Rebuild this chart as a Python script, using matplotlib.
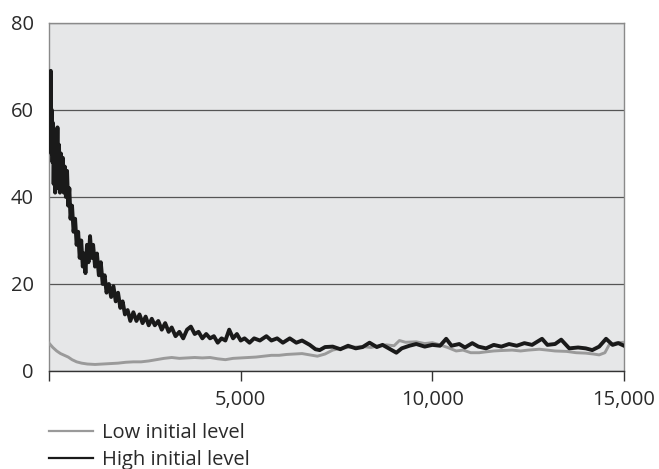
import matplotlib.pyplot as plt
from matplotlib.ticker import FuncFormatter

# --- datos ---
steps_high = [0, 10, 20, 30, 45, 60, 75, 90, 105, 120, 140, 160, 180, 200, 220, 240, 260, 285, 310, 335,
              360, 385, 410, 440, 470, 500, 530, 560, 600, 640, 680, 720, 760, 800, 840, 880, 920, 950, 990, 1030,
              1070, 1110, 1150, 1200, 1250, 1300, 1350, 1400, 1450, 1500, 1560, 1620, 1680, 1740, 1800, 1860, 1920, 1980, 2050, 2120,
              2200, 2280, 2360, 2440, 2520, 2600, 2680, 2760, 2850, 2940, 3030, 3120, 3200, 3300, 3400, 3500, 3600, 3700, 3800, 3900,
              4000, 4100, 4200, 4300, 4400, 4500, 4600, 4700, 4800, 4900, 5000, 5100, 5230, 5350, 5500, 5670, 5800, 5950, 6100, 6280,
              6450, 6600, 6800, 6950, 7060, 7200, 7400, 7600, 7800, 8000, 8180, 8360, 8550, 8700, 8900, 9060, 9200, 9400, 9580, 9800,
              10000, 10200, 10360, 10500, 10700, 10850, 11040, 11200, 11400, 11600, 11800, 12000, 12200, 12400, 12600, 12860, 13000, 13200, 13360, 13570,
              13800, 14000, 14170, 14350, 14530, 14700, 14850, 15000]
high_level = [62, 55, 66, 52, 69, 50, 60, 48, 57, 43, 55, 41, 54, 45, 56, 42, 52, 41, 50, 44,
              49, 41, 47, 40, 46, 38, 42, 35, 38, 32, 35, 29, 32, 26, 30, 24, 27, 22.5, 29, 25,
              31, 26, 29, 24, 27, 22, 25, 20, 22, 18, 20, 17, 19.5, 16, 18, 14.5, 16, 13, 14, 11.5,
              13.5, 11.5, 13, 11, 12.5, 10.5, 12, 10.5, 11.5, 9.5, 11, 9, 10, 8, 9, 7.5, 9.5, 10.2, 8.5, 9,
              7.5, 8.5, 7.5, 8, 6.5, 7.5, 7, 9.5, 7.5, 8.5, 7, 7.5, 6.5, 7.5, 7, 8, 7, 7.5, 6.5, 7.5,
              6.5, 7, 6, 5, 4.8, 5.5, 5.6, 5, 5.8, 5.2, 5.5, 6.5, 5.5, 6, 5, 4.2, 5.2, 5.8, 6.2, 5.6,
              6, 5.8, 7.4, 5.8, 6.2, 5.4, 6.4, 5.6, 5.2, 6, 5.6, 6.2, 5.8, 6.4, 6, 7.4, 6, 6.2, 7.2, 5.2,
              5.4, 5.2, 4.8, 5.6, 7.4, 6, 6.4, 5.8]

steps_low = [0, 100, 200, 300, 400, 500, 600, 720, 850, 1000, 1200, 1400, 1600, 1800, 2000, 2200, 2400, 2600, 2800, 3000,
             3200, 3400, 3600, 3800, 4000, 4200, 4400, 4600, 4800, 5000, 5200, 5400, 5600, 5800, 6000, 6200, 6400, 6600, 6800, 7000,
             7200, 7400, 7600, 7800, 8000, 8200, 8400, 8600, 8800, 9000, 9140, 9300, 9580, 9800, 10000, 10200, 10400, 10620, 10800, 11000,
             11220, 11400, 11600, 11800, 12080, 12300, 12500, 12790, 13000, 13200, 13500, 13750, 14000, 14200, 14350, 14500, 14610, 14800, 15000]
low_level = [6.4, 5.4, 4.6, 4.0, 3.6, 3.2, 2.6, 2.1, 1.8, 1.6, 1.5, 1.6, 1.7, 1.8, 2.0, 2.1, 2.1, 2.3, 2.6, 2.9,
             3.1, 2.9, 3.0, 3.1, 3.0, 3.1, 2.8, 2.6, 2.9, 3.0, 3.1, 3.2, 3.4, 3.6, 3.6, 3.8, 3.9, 4.0, 3.7, 3.4,
             3.9, 4.8, 5.2, 5.4, 5.5, 5.6, 5.4, 5.8, 6.0, 5.8, 7.0, 6.6, 6.7, 6.3, 6.5, 6.0, 5.4, 4.6, 4.8, 4.2,
             4.2, 4.4, 4.6, 4.7, 4.8, 4.6, 4.8, 5.0, 4.8, 4.6, 4.5, 4.2, 4.1, 3.9, 3.7, 4.2, 6.0, 6.5, 6.6]

y_ticks = [0, 20, 40, 60, 80]
x_ticks = [0, 5000, 10000, 15000]

plt.rcParams['font.family'] = ['Open Sans', 'DejaVu Sans']

fig = plt.figure(figsize=(6.59, 4.69), dpi=100)
ax = fig.add_axes([0.0744, 0.209, 0.8726, 0.742])
ax.set_facecolor('#e6e7e8')

ax.plot(steps_low, low_level, color='#9a9a9a', lw=2.1, label='Low initial level', zorder=3)
ax.plot(steps_high, high_level, color='#1a1a1a', lw=2.8, label='High initial level', zorder=4)

ax.set_xlim(0, 15000)
ax.set_ylim(0, 80)
ax.set_yticks(y_ticks)
ax.set_xticks(x_ticks)
ax.xaxis.set_major_formatter(FuncFormatter(lambda v, p: '' if v == 0 else f'{int(v):,}'))

ax.grid(axis='y', color='#555555', lw=0.9)
ax.set_axisbelow(True)

for lado in ['left', 'top', 'right']:
    ax.spines[lado].set_color('#8a8a8a')
    ax.spines[lado].set_linewidth(1.0)
ax.spines['bottom'].set_color('#333333')
ax.spines['bottom'].set_linewidth(1.0)

ax.tick_params(axis='y', length=0, pad=11, labelsize=14.5, colors='#2a2a2a')
ax.tick_params(axis='x', length=7, width=1.0, color='#333333', pad=7, labelsize=14.5, labelcolor='#2a2a2a')

leg = ax.legend(loc='upper left', bbox_to_anchor=(0.074, 0.098), bbox_transform=fig.transFigure,
                frameon=False, fontsize=14.5, handlelength=2.2, handletextpad=0.45, labelspacing=0.36,
                borderaxespad=0, borderpad=0, labelcolor='#2a2a2a')
for linea in leg.get_lines():
    linea.set_linewidth(1.6)

plt.savefig('out.png', dpi=100)
